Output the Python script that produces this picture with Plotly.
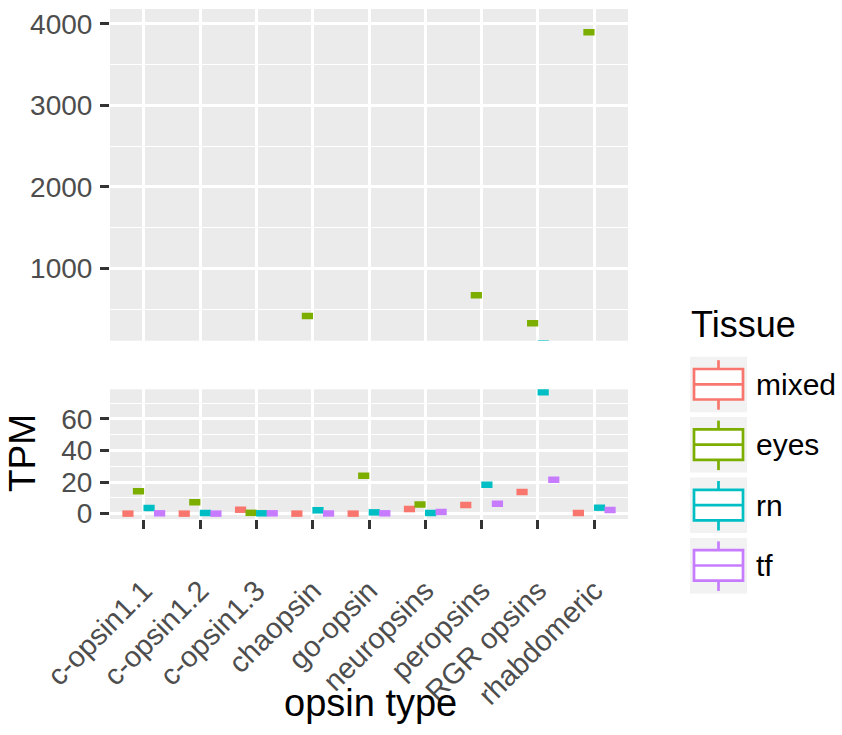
import plotly.graph_objects as go

# ---- data ----
categories = ["c-opsin1.1", "c-opsin1.2", "c-opsin1.3", "chaopsin", "go-opsin",
              "neuropsins", "peropsins", "RGR opsins", "rhabdomeric"]
tissues = ["mixed", "eyes", "rn", "tf"]
tissue_colors = ["#F8766D", "#7CAE00", "#00BFC4", "#C77CFF"]
tpm_mixed = [0.0, 0.0, 2.5, 0.0, 0.0, 2.9, 5.5, 13.7, 0.4]
tpm_eyes = [14.1, 7.2, 0.5, 414.0, 24.0, 5.7, 668.0, 324.0, 3898.0]
tpm_rn = [3.6, 0.4, 0.2, 2.1, 0.8, 0.4, 18.3, 76.9, 3.8]
tpm_tf = [0.2, 0.0, 0.2, 0.1, 0.2, 1.1, 6.3, 21.5, 2.3]
tissue_values = [tpm_mixed, tpm_eyes, tpm_rn, tpm_tf]

lower_ticks = [0, 20, 40, 60]
upper_ticks = [1000, 2000, 3000, 4000]

# ---- geometry ----
W, H = 842, 735
ML, MR, MT, MB = 110, 214, 9, 216
PW = W - ML - MR
PH = H - MT - MB


def px(xp):
    return (xp - ML) / PW


def py(yp):
    return (H - MB - yp) / PH


lower_dom = [0.0, py(389.3)]
upper_dom = [py(340.7), 1.0]

FONT = "Liberation Sans, Arial, Helvetica, sans-serif"
TICKC = "#4D4D4D"

fig = go.Figure()
for name, vals, col in zip(tissues, tissue_values, tissue_colors):
    for yax in ["y", "y2"]:
        # collapsed boxplots (single value per group) -> flat thick bar
        fig.add_trace(go.Scatter(
            x=categories, y=vals, name=name, xaxis="x", yaxis=yax,
            mode="markers", cliponaxis=True,
            marker=dict(symbol="line-ew", size=8, color=col,
                        line=dict(color=col, width=6.5)),
            showlegend=False, hoverinfo="skip",
        ))

axis_common = dict(
    ticks="outside", ticklen=9, tickwidth=2.7, tickcolor="#333333",
    showgrid=True, gridcolor="white", gridwidth=2.8,
    zeroline=False, showline=False,
)
yfont = dict(family=FONT, size=28, color=TICKC)
xfont = dict(family=FONT, size=29, color=TICKC)

fig.update_layout(
    width=W, height=H,
    margin=dict(l=ML, r=MR, t=MT, b=MB, pad=0),
    paper_bgcolor="white", plot_bgcolor="#EBEBEB",
    scattermode="group", scattergap=0.25,
    showlegend=False,
    font=dict(family=FONT),
    xaxis=dict(
        type="category", categoryorder="array", categoryarray=categories,
        range=[-0.6, len(categories) - 0.4], anchor="y",
        tickangle=-45, ticklabelstandoff=33, tickfont=xfont, **axis_common,
    ),
    yaxis=dict(
        domain=lower_dom, range=[-3.4, 78.7], anchor="x",
        tickmode="array", tickvals=lower_ticks, ticktext=[str(v) for v in lower_ticks],
        ticklabelstandoff=2, tickfont=yfont,
        minor=dict(tickmode="array", tickvals=[10, 30, 50, 70], showgrid=True,
                   gridcolor="white", gridwidth=1.4, ticks=""),
        **axis_common,
    ),
    yaxis2=dict(
        domain=upper_dom, range=[111, 4184], anchor="x",
        tickmode="array", tickvals=upper_ticks, ticktext=[str(v) for v in upper_ticks],
        ticklabelstandoff=2, tickfont=yfont,
        minor=dict(tickmode="array", tickvals=[500, 1500, 2500, 3500], showgrid=True,
                   gridcolor="white", gridwidth=1.4, ticks=""),
        **axis_common,
    ),
)

shapes = []
annotations = []

# axis titles
annotations.append(dict(text="opsin type", x=px(370), y=py(702.5), xref="paper", yref="paper",
                        xanchor="center", yanchor="middle", showarrow=False,
                        font=dict(family=FONT, size=38, color="black")))
annotations.append(dict(text="TPM", x=px(22), y=py(453), xref="paper", yref="paper",
                        xanchor="center", yanchor="middle", showarrow=False, textangle=-90,
                        font=dict(family=FONT, size=37, color="black")))

# legend (drawn manually, ggplot style)
annotations.append(dict(text="Tissue", x=px(689), y=py(324), xref="paper", yref="paper",
                        xanchor="left", yanchor="middle", showarrow=False,
                        font=dict(family=FONT, size=36, color="black")))
pitch = 60.4
for i, (name, col) in enumerate(zip(tissues, tissue_colors)):
    top = 356.7 + i * pitch
    shapes.append(dict(type="rect", xref="paper", yref="paper",
                       x0=px(690), x1=px(747), y0=py(top), y1=py(top + 55.5),
                       fillcolor="#F2F2F2", line=dict(width=0), layer="above"))
    shapes.append(dict(type="line", xref="paper", yref="paper",
                       x0=px(718.5), x1=px(718.5), y0=py(top + 3.5), y1=py(top + 53),
                       line=dict(color=col, width=2.7), layer="above"))
    shapes.append(dict(type="rect", xref="paper", yref="paper",
                       x0=px(694), x1=px(743), y0=py(top + 12.3), y1=py(top + 42.8),
                       fillcolor="white", line=dict(color=col, width=2.7), layer="above"))
    shapes.append(dict(type="line", xref="paper", yref="paper",
                       x0=px(694), x1=px(743), y0=py(top + 27.6), y1=py(top + 27.6),
                       line=dict(color=col, width=2.7), layer="above"))
    annotations.append(dict(text=name, x=px(754), y=py(top + 27.6), xref="paper", yref="paper",
                            xanchor="left", yanchor="middle", showarrow=False,
                            font=dict(family=FONT, size=30, color="black")))

fig.update_layout(shapes=shapes, annotations=annotations)
fig.write_html("out.html")
